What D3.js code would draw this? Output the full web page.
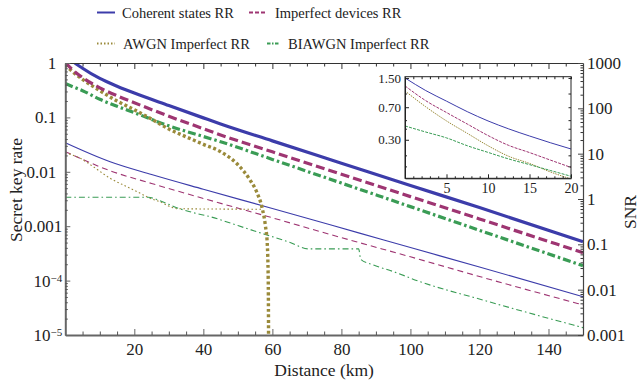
<!DOCTYPE html>
<html>
<head>
<meta charset="utf-8">
<script src="https://cdnjs.cloudflare.com/ajax/libs/d3/7.8.5/d3.min.js"></script>
<style>
body { margin: 0; background: #fff; }
svg { display: block; font-family: "Liberation Serif", "DejaVu Serif", serif; }
</style>
</head>
<body>
<div id="display"></div>
<script>
var width = 641,
    height = 388;

// main plot: key rate (thick lines)
var kmMain = [0, 2, 5, 10, 15, 20, 30, 40, 45, 60, 80, 100, 120, 150];
var coherentRate = [1.5, 1.1, 0.8, 0.52, 0.375, 0.28, 0.165, 0.098, 0.0757, 0.037, 0.0144, 0.0056, 0.0022, 0.00052];
var imperfectRate = [1.02, 0.76, 0.54, 0.35, 0.25, 0.186, 0.105, 0.062, 0.0475, 0.0233, 0.009, 0.0035, 0.00136, 0.000326];
var biawgnRate = [0.42, 0.37, 0.31, 0.215, 0.16, 0.122, 0.07, 0.0445, 0.0357, 0.0169, 0.0062, 0.00229, 0.00084, 0.000188];
var kmAwgn = [0, 2, 5, 10, 15, 20, 25, 30, 35, 40, 45, 50, 53.5, 55.5, 57, 58, 58.5, 58.8, 58.95];
var awgnRate = [0.92, 0.7, 0.5, 0.31, 0.2, 0.138, 0.093, 0.061, 0.044, 0.032, 0.0234, 0.0135, 0.0071, 0.0042, 0.0022, 0.001, 0.0005, 0.0001, 0.000001];

// main plot: SNR (thin lines, right axis)
var kmSnr = [0, 13, 25, 40, 60, 77, 85, 100, 120, 150];
var coherentSnr = [17.5, 6.65, 3.47, 1.64, 0.617, 0.266, 0.179, 0.085, 0.0316, 0.007];
var imperfectSnr = [11.1, 4.2, 2.2, 1.03, 0.385, 0.163, 0.11, 0.053, 0.0195, 0.0046];
var kmAwgnSnr = [0, 4.3, 8.1, 13, 17.8, 21.7, 24.5, 27.4, 30.4, 32.3, 45, 57.4];
var awgnSnr = [10.5, 7.9, 5.16, 2.86, 1.87, 1.34, 1.04, 0.873, 0.676, 0.611, 0.6, 0.593];
var kmBiawgnSnr = [0, 24, 27.4, 32.3, 37.1, 42, 50, 58.4, 65, 70.4, 85, 85.6, 89.3, 95, 102.8, 120.2, 150];
var biawgnSnr = [1.09, 1.09, 0.918, 0.643, 0.499, 0.407, 0.259, 0.161, 0.111, 0.0794, 0.0794, 0.0468, 0.035, 0.0251, 0.015, 0.00614, 0.00145];

// inset: key rate at short distance
var kmInset = [0, 2.5, 5, 7.5, 10, 12.5, 15, 17.5, 20];
var coherentInset = [1.5, 1.08, 0.82, 0.624, 0.49, 0.398, 0.331, 0.278, 0.236];
var imperfectInset = [1.22, 0.83, 0.61, 0.452, 0.335, 0.259, 0.215, 0.177, 0.146];
var awgnInset = [1.07, 0.708, 0.49, 0.355, 0.257, 0.195, 0.162, 0.13, 0.108];
var biawgnInset = [0.43, 0.367, 0.315, 0.257, 0.216, 0.182, 0.157, 0.135, 0.116];

// ticks
var kmTicks = [20, 40, 60, 80, 100, 120, 140];
var rateTicks = [1, 0.1, 0.01, 0.001, 1e-4, 1e-5];
var rateLabels = ["1", "0.1", "0.01", "0.001", "10|\u22124", "10|\u22125"];
var snrTicks = [1000, 100, 10, 1, 0.1, 0.01, 0.001];
var snrLabels = ["1000", "100", "10", "1", "0.1", "0.01", "0.001"];
var insetKmTicks = [5, 10, 15, 20];
var insetRateTicks = [1.5, 0.7, 0.3];
var insetRateLabels = ["1.50", "0.70", "0.30"];

var legendNames = ["Coherent states RR", "Imperfect devices RR", "AWGN Imperfect RR", "BIAWGN Imperfect RR"];

// styles
var colors = ["#3c3caa", "#9e3572", "#9a8a3a", "#3a9c55"];
var thickDash = [null, "9,4", "3,2.5", "8,3,2.5,3"];
var thinDash = [null, "6,4", "1.6,2.4", "6,3,1.6,3"];
var serif = "Liberation Serif, DejaVu Serif, serif";

var svg = d3.select("#display")
    .append("svg")
    .attr("width", width)
    .attr("height", height);

var pL = 65.3, pR = 583, pT = 63, pB = 335;

var x = d3.scaleLinear().domain([0, 150]).range([pL, pR]);
var yRate = d3.scaleLog().domain([1e-5, 1]).range([pB, pT]);
var ySnr = d3.scaleLog().domain([1e-3, 1e3]).range([pB, pT]);

function pairs(xs, ys) {
    return xs.map(function (d, i) { return { km: d, v: ys[i] }; });
}
function minorLog(lo, hi) {
    var out = [];
    for (var e = lo; e < hi; e++) {
        for (var k = 2; k <= 9; k++) out.push(k * Math.pow(10, e));
    }
    return out;
}

svg.append("clipPath").attr("id", "mainClip")
    .append("rect").attr("x", pL).attr("y", pT)
    .attr("width", pR - pL).attr("height", pB - pT);

var rateLine = d3.line().x(d => x(d.km)).y(d => yRate(d.v)).curve(d3.curveMonotoneX);
var snrLine = d3.line().x(d => x(d.km)).y(d => ySnr(d.v)).curve(d3.curveMonotoneX);

var plot = svg.append("g").attr("clip-path", "url(#mainClip)");

var thinSets = [pairs(kmSnr, coherentSnr), pairs(kmSnr, imperfectSnr), pairs(kmAwgnSnr, awgnSnr), pairs(kmBiawgnSnr, biawgnSnr)];
var thickSets = [pairs(kmMain, coherentRate), pairs(kmMain, imperfectRate), pairs(kmAwgn, awgnRate), pairs(kmMain, biawgnRate)];

thinSets.forEach(function (s, i) {
    plot.append("path").datum(s)
        .attr("d", snrLine)
        .attr("fill", "none")
        .attr("stroke", colors[i])
        .attr("stroke-width", 1.1)
        .attr("stroke-dasharray", thinDash[i]);
});
[3, 2, 1, 0].forEach(function (i) {
    plot.append("path").datum(thickSets[i])
        .attr("d", rateLine)
        .attr("fill", "none")
        .attr("stroke", colors[i])
        .attr("stroke-width", i == 2 ? 3.4 : 3.2)
        .attr("stroke-dasharray", thickDash[i]);
});

// axes
function styleAxis(g, col, w) {
    g.attr("font-family", serif);
    g.select(".domain").attr("stroke", col).attr("stroke-width", w);
    g.selectAll(".tick line").attr("stroke", col).attr("stroke-width", 1);
    g.selectAll("text").attr("fill", "#222");
}
function minorAxis(g, col) {
    g.select(".domain").remove();
    g.selectAll("line").attr("stroke", col);
}

var minorKm = d3.range(5, 150, 5).filter(d => d % 20 != 0);

var gx = svg.append("g").attr("transform", "translate(0," + pB + ")")
    .call(d3.axisBottom(x).tickValues(kmTicks).tickSizeInner(-6).tickSizeOuter(0).tickPadding(8).tickFormat(d3.format("d")));
gx.selectAll("text").style("font-size", "17px");
styleAxis(gx, "#666", 2);
svg.append("g").attr("transform", "translate(0," + pB + ")")
    .call(d3.axisBottom(x).tickValues(minorKm).tickSize(-3.5).tickFormat(""))
    .call(minorAxis, "#555");

var gt = svg.append("g").attr("transform", "translate(0," + pT + ")")
    .call(d3.axisTop(x).tickValues(kmTicks).tickSizeInner(-6).tickSizeOuter(0).tickFormat(""));
styleAxis(gt, "#333", 1);
svg.append("g").attr("transform", "translate(0," + pT + ")")
    .call(d3.axisTop(x).tickValues(minorKm).tickSize(-3.5).tickFormat(""))
    .call(minorAxis, "#333");

var gy = svg.append("g").attr("transform", "translate(" + pL + ",0)")
    .call(d3.axisLeft(yRate).tickValues(rateTicks).tickSizeInner(-5).tickSizeOuter(0).tickPadding(9)
        .tickFormat((d, i) => rateLabels[i]));
styleAxis(gy, "#666", 2);
svg.append("g").attr("transform", "translate(" + pL + ",0)")
    .call(d3.axisLeft(yRate).tickValues(minorLog(-5, 0)).tickSize(-2.5).tickFormat(""))
    .call(minorAxis, "#555");
gy.selectAll("text").style("font-size", "17px").each(function () {
    var t = d3.select(this), parts = t.text().split("|");
    if (parts.length == 2) {
        t.text(parts[0]).attr("x", -3);
        t.append("tspan").attr("dy", "-0.45em").style("font-size", "11px").text(parts[1]);
    } else if (parts[0].length > 4) {
        t.attr("x", -3);
    }
});

var gr = svg.append("g").attr("transform", "translate(" + pR + ",0)")
    .call(d3.axisRight(ySnr).tickValues(snrTicks).tickSizeInner(-5).tickSizeOuter(0).tickPadding(4)
        .tickFormat((d, i) => snrLabels[i]));
styleAxis(gr, "#444", 1.2);
gr.selectAll("text").style("font-size", "17px");
svg.append("g").attr("transform", "translate(" + pR + ",0)")
    .call(d3.axisRight(ySnr).tickValues(minorLog(-3, 3)).tickSize(-2.5).tickFormat(""))
    .call(minorAxis, "#333");

// axis titles
svg.append("text").attr("x", (pL + pR) / 2).attr("y", 376)
    .attr("text-anchor", "middle").style("font-size", "17.5px").attr("fill", "#222")
    .text("Distance (km)");
svg.append("text").attr("transform", "translate(22,190) rotate(-90)")
    .attr("text-anchor", "middle").style("font-size", "17.5px").attr("fill", "#222")
    .text("Secret key rate");
svg.append("text").attr("transform", "translate(636,212) rotate(-90)")
    .attr("text-anchor", "middle").style("font-size", "17.5px").attr("fill", "#222")
    .text("SNR");

// inset
var ix0 = 405, ix1 = 571, iy0 = 76.7, iy1 = 178.3;
var xi = d3.scaleLinear().domain([0, 20]).range([ix0, ix1]);
var yi = d3.scaleLog().domain([0.11, 1.55]).range([iy1, iy0]);

svg.append("rect").attr("x", ix0).attr("y", iy0).attr("width", ix1 - ix0).attr("height", iy1 - iy0)
    .attr("fill", "#fff");
svg.append("clipPath").attr("id", "insetClip")
    .append("rect").attr("x", ix0).attr("y", iy0).attr("width", ix1 - ix0).attr("height", iy1 - iy0);

var insetLine = d3.line().x(d => xi(d.km)).y(d => yi(d.v)).curve(d3.curveMonotoneX);
var inset = svg.append("g").attr("clip-path", "url(#insetClip)");
[coherentInset, imperfectInset, awgnInset, biawgnInset].forEach(function (s, i) {
    inset.append("path").datum(pairs(kmInset, s))
        .attr("d", insetLine)
        .attr("fill", "none")
        .attr("stroke", colors[i])
        .attr("stroke-width", 1)
        .attr("stroke-dasharray", i == 0 ? null : (i == 2 ? "1.5,1" : "3,1.2"));
});

var ixMinor = d3.range(1, 20).filter(d => d % 5 != 0);
var iyMinor = [1, 0.5, 0.4, 0.2, 0.15];
var gib = svg.append("g").attr("transform", "translate(0," + iy1 + ")")
    .call(d3.axisBottom(xi).tickValues(insetKmTicks).tickSizeInner(-4).tickSizeOuter(0).tickPadding(5));
styleAxis(gib, "#222", 1);
gib.selectAll("text").style("font-size", "14px");
svg.append("g").attr("transform", "translate(0," + iy1 + ")")
    .call(d3.axisBottom(xi).tickValues(ixMinor).tickSize(-2).tickFormat(""))
    .call(minorAxis, "#222");
svg.append("g").attr("transform", "translate(0," + iy0 + ")")
    .call(d3.axisTop(xi).tickValues(insetKmTicks.concat(ixMinor)).tickSize(-2.5).tickFormat(""))
    .call(minorAxis, "#222");
var gil = svg.append("g").attr("transform", "translate(" + ix0 + ",0)")
    .call(d3.axisLeft(yi).tickValues(insetRateTicks).tickSizeInner(-4).tickSizeOuter(0).tickPadding(4)
        .tickFormat((d, i) => insetRateLabels[i]));
styleAxis(gil, "#222", 1);
gil.selectAll("text").style("font-size", "13px");
svg.append("g").attr("transform", "translate(" + ix0 + ",0)")
    .call(d3.axisLeft(yi).tickValues(iyMinor).tickSize(-2).tickFormat(""))
    .call(minorAxis, "#222");
svg.append("g").attr("transform", "translate(" + ix1 + ",0)")
    .call(d3.axisRight(yi).tickValues(insetRateTicks.concat(iyMinor)).tickSize(-2.5).tickFormat(""))
    .call(minorAxis, "#222");
svg.append("rect").attr("x", ix0).attr("y", iy0).attr("width", ix1 - ix0).attr("height", iy1 - iy0)
    .attr("fill", "none").attr("stroke", "#222").attr("stroke-width", 1);

// legend
var legendPos = [
    { lx: 97, lw: 18, ly: 12.5, tx: 122, ty: 18 },
    { lx: 249, lw: 16, ly: 12.5, tx: 275, ty: 18 },
    { lx: 97, lw: 18, ly: 43.5, tx: 123, ty: 49 },
    { lx: 267, lw: 12, ly: 43.5, tx: 288, ty: 49 }
];
var legendDash = [null, "4,2", "1.5,2", "3.5,1.5,1.5,1.5"];
legendNames.forEach(function (name, i) {
    var p = legendPos[i];
    svg.append("line").attr("x1", p.lx).attr("x2", p.lx + p.lw).attr("y1", p.ly).attr("y2", p.ly)
        .attr("stroke", colors[i]).attr("stroke-width", 2)
        .attr("stroke-dasharray", legendDash[i]);
    svg.append("text").attr("x", p.tx).attr("y", p.ty)
        .style("font-size", "14.5px").attr("fill", "#222").text(name);
});
</script>
</body>
</html>
